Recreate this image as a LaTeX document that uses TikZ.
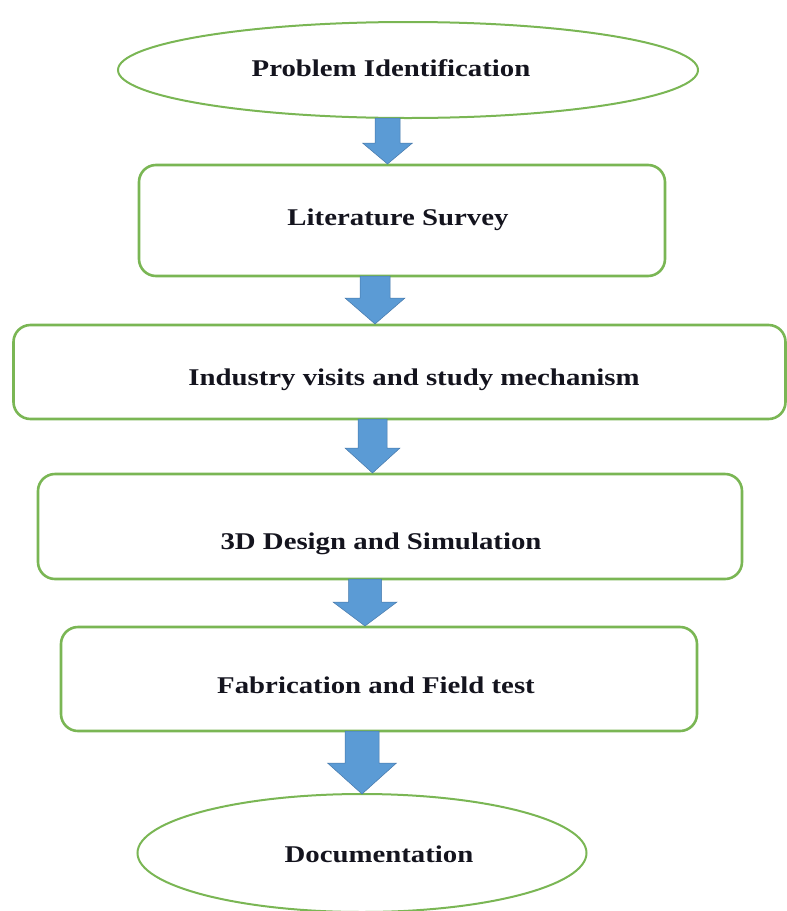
\documentclass[tikz,border=0pt]{standalone}
\usepackage{fontspec}
\setmainfont{Liberation Serif}[FakeStretch=1.2]
\usetikzlibrary{shapes.geometric}
\definecolor{boxgreen}{RGB}{122,182,84}
\definecolor{arrfill}{RGB}{91,155,213}
\definecolor{arrdraw}{RGB}{70,120,170}
\definecolor{txt}{RGB}{20,20,30}
\newcommand{\flowarrow}[7]{% name, cx, ytop, yhead, ytip, shafthalf, headhalf
  \draw[arrowshape] (#2-#6,#3) -- (#2+#6,#3) -- (#2+#6,#4) -- (#2+#7,#4)
    -- coordinate(#1) (#2,#5) -- (#2-#7,#4) -- (#2-#6,#4) -- cycle;}
\begin{document}
\begin{tikzpicture}[x=1pt,y=-1pt,
  stepbox/.style={draw=boxgreen,line width=2.6pt,rounded corners=17pt,rectangle,inner sep=0pt},
  endbox/.style={draw=boxgreen,line width=2pt,ellipse,inner sep=0pt},
  label/.style={font=\bfseries\fontsize{24}{28}\selectfont,text=txt,anchor=base,inner sep=0pt},
  arrowshape/.style={fill=arrfill,draw=arrdraw,line width=0.5pt,line join=miter}]
\useasboundingbox (0,0) rectangle (787,911);
% shapes
\node[endbox,minimum width=580pt,minimum height=96pt] (e1) at (408,70) {};
\node[stepbox,minimum width=526pt,minimum height=111pt] (b1) at (402,220.5) {};
\node[stepbox,minimum width=772pt,minimum height=94pt] (b2) at (399.5,372) {};
\node[stepbox,minimum width=704pt,minimum height=105pt] (b3) at (390,526.5) {};
\node[stepbox,minimum width=636pt,minimum height=104pt] (b4) at (379,679) {};
\node[endbox,minimum width=449pt,minimum height=118pt] (e2) at (362,853) {};
% texts
\node[label] (t0) at (391,76) {Problem Identification};
\node[label] (t1) at (398,225) {Literature Survey};
\node[label] (t2) at (414,385) {Industry visits and study mechanism};
\node[label] (t3) at (381,549) {3D Design and Simulation};
\node[label] (t4) at (376,693) {Fabrication and Field test};
\node[label] (t5) at (379,862) {Documentation};
% block arrows
\flowarrow{a1}{387.5}{118}{143}{164}{12.5}{25}
\flowarrow{a2}{375}{276}{298}{324}{15}{30}
\flowarrow{a3}{372.5}{419}{448}{473}{14.5}{27.5}
\flowarrow{a4}{365}{579}{602}{626}{16.5}{32}
\flowarrow{a5}{362}{731}{763}{794}{17}{34.5}
\end{tikzpicture}
\end{document}
